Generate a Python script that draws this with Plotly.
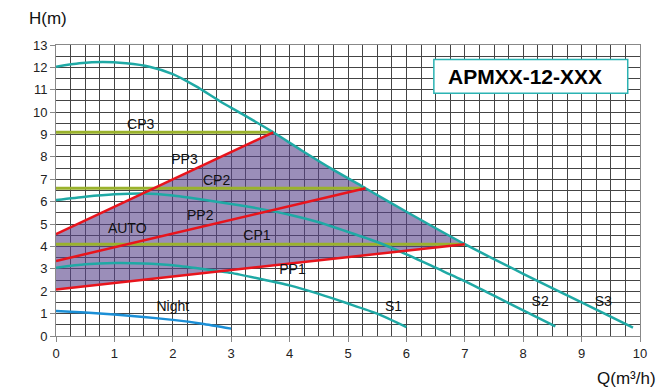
import numpy as np
import plotly.graph_objects as go

# Pump curves: flow Q (m³/h) vs head H (m)
s3_q = [0, 0.4, 0.8, 1.2, 1.6, 2.0, 2.4, 2.8, 3.2, 3.72, 4.2, 4.75, 5.3, 6.0, 7.0, 8.0, 9.0, 9.88]
s3_h = [12.03, 12.18, 12.24, 12.18, 12.03, 11.7, 11.15, 10.5, 9.9, 9.1, 8.3, 7.42, 6.6, 5.55, 4.1, 2.78, 1.5, 0.37]

s2_q = [0, 0.5, 1.0, 1.5, 2.0, 2.5, 3.0, 3.5, 4.0, 4.5, 5.0, 5.5, 6.0, 6.5, 7.0, 7.5, 8.0, 8.55]
s2_h = [6.07, 6.22, 6.33, 6.37, 6.28, 6.1, 5.9, 5.68, 5.42, 5.08, 4.65, 4.2, 3.65, 3.05, 2.45, 1.8, 1.15, 0.43]

s1_q = [0, 0.5, 1.0, 1.5, 2.0, 2.5, 3.0, 3.5, 4.0, 4.5, 5.0, 5.5, 6.0]
s1_h = [3.05, 3.2, 3.26, 3.24, 3.16, 3.0, 2.82, 2.55, 2.26, 1.88, 1.45, 1.0, 0.4]

night_q = [0, 0.5, 1.0, 1.5, 2.0, 2.5, 3.0]
night_h = [1.12, 1.05, 0.96, 0.85, 0.72, 0.55, 0.33]

# Proportional-pressure lines (start, end)
pp1_q = [0, 7.0]
pp1_h = [2.08, 4.1]
pp2_q = [0, 5.3]
pp2_h = [3.35, 6.6]
pp3_q = [0, 3.72]
pp3_h = [4.55, 9.1]

# Constant-pressure lines
cp1_q = [0, 7.0]
cp1_h = [4.1, 4.1]
cp2_q = [0, 5.3]
cp2_h = [6.6, 6.6]
cp3_q = [0, 3.72]
cp3_h = [9.1, 9.1]

# Curve labels: text, Q, H
labels = ["CP3", "PP3", "CP2", "AUTO", "PP2", "CP1", "PP1", "Night", "S1", "S2", "S3"]
label_q = [1.45, 2.2, 2.75, 1.22, 2.47, 3.44, 4.05, 2.0, 5.78, 8.29, 9.37]
label_h = [9.4, 7.84, 6.9, 4.76, 5.34, 4.45, 2.93, 1.28, 1.28, 1.5, 1.5]

model_name = "APMXX-12-XXX"
x_ticks = list(range(0, 11))
y_ticks = list(range(0, 14))

TEAL = "#1fa9a5"
RED = "#e8141c"
GREEN = "#9ab22c"
BLUE = "#1b8fd6"
FONT = "Liberation Sans, Arial, sans-serif"

fig = go.Figure()

# AUTO operating region: PP1 -> along S3 -> PP3
s3q = np.array(s3_q)
s3h = np.array(s3_h)
seg = (s3q >= pp3_q[1]) & (s3q <= pp1_q[1])
region_q = [pp1_q[0], pp1_q[1]] + list(s3q[seg][::-1]) + [pp3_q[1], pp3_q[0]]
region_h = [pp1_h[0], pp1_h[1]] + list(s3h[seg][::-1]) + [pp3_h[1], pp3_h[0]]
fig.add_trace(go.Scatter(x=region_q, y=region_h, mode="lines", fill="toself",
                         fillcolor="rgba(88,66,138,0.6)", line=dict(width=0),
                         hoverinfo="skip"))

for q, h in [(cp1_q, cp1_h), (cp2_q, cp2_h), (cp3_q, cp3_h)]:
    fig.add_trace(go.Scatter(x=q, y=h, mode="lines", line=dict(color=GREEN, width=3)))

for q, h in [(s1_q, s1_h), (s2_q, s2_h), (s3_q, s3_h)]:
    fig.add_trace(go.Scatter(x=q, y=h, mode="lines", line=dict(color=TEAL, width=2.5, shape="spline", smoothing=0.6)))

fig.add_trace(go.Scatter(x=night_q, y=night_h, mode="lines", line=dict(color=BLUE, width=2.5, shape="spline", smoothing=0.6)))

for q, h in [(pp1_q, pp1_h), (pp2_q, pp2_h), (pp3_q, pp3_h)]:
    fig.add_trace(go.Scatter(x=q, y=h, mode="lines", line=dict(color=RED, width=2.5)))

fig.add_trace(go.Scatter(x=label_q, y=label_h, mode="text", text=labels,
                         textfont=dict(family=FONT, size=14, color="#111111")))

# Model name box
fig.add_shape(type="rect", x0=6.47, x1=9.79, y0=10.85, y1=12.35,
              line=dict(color="#2bb3b3", width=1.5), fillcolor="white", layer="above")
fig.add_annotation(x=6.67, y=11.6, xanchor="left", yanchor="middle", showarrow=False,
                   text="<b>" + model_name + "</b>",
                   font=dict(family=FONT, size=21, color="#000000"))

# Axis titles
fig.add_annotation(xref="paper", yref="paper", x=0, y=1.0, xshift=-29, yshift=27, xanchor="left",
                   yanchor="middle", showarrow=False, text="H(m)",
                   font=dict(family=FONT, size=17, color="#111111"))
fig.add_annotation(xref="paper", yref="paper", x=1.0, y=0.0, xshift=18, yshift=-42,
                   xanchor="right", yanchor="middle", showarrow=False, text="Q(m³/h)",
                   font=dict(family=FONT, size=17, color="#111111"))

GRID = "#444444"
fig.update_xaxes(range=[0, 10], tickvals=x_ticks, showgrid=True, gridcolor=GRID, gridwidth=1,
                 minor=dict(dtick=0.25, showgrid=True, gridcolor=GRID, gridwidth=1),
                 ticks="outside", ticklen=5, tickcolor="#888888",
                 showline=True, linecolor="#888888", linewidth=1, mirror=True,
                 zeroline=False, tickfont=dict(family=FONT, size=13, color="#222222"))
fig.update_yaxes(range=[0, 13], tickvals=y_ticks, showgrid=True, gridcolor=GRID, gridwidth=1,
                 minor=dict(dtick=0.5, showgrid=True, gridcolor=GRID, gridwidth=1),
                 ticks="outside", ticklen=5, tickcolor="#888888",
                 showline=True, linecolor="#888888", linewidth=1, mirror=True,
                 zeroline=False, tickfont=dict(family=FONT, size=13, color="#222222"))

fig.update_layout(width=661, height=390, margin=dict(l=56, r=21, t=45, b=54),
                  paper_bgcolor="white", plot_bgcolor="white", showlegend=False,
                  font=dict(family=FONT))

fig.write_html("out.html")
